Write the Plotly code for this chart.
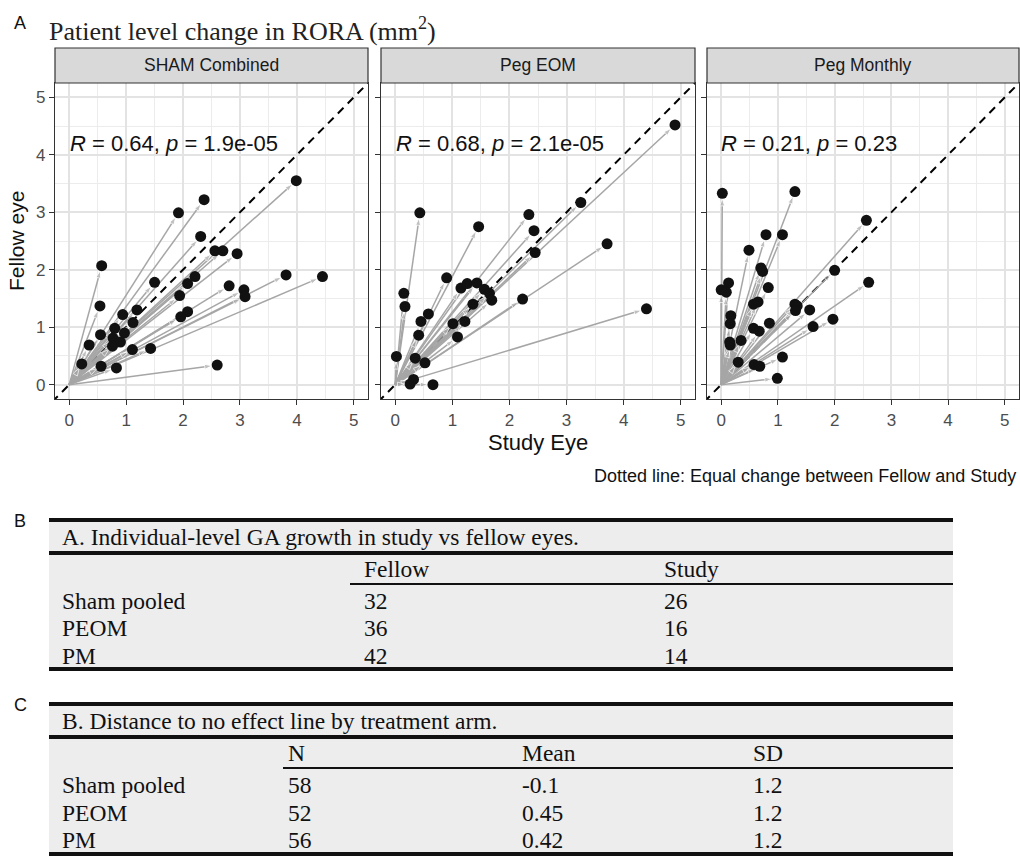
import plotly.graph_objects as go

# ---------------- data ----------------
panel_names = ["SHAM Combined", "Peg EOM", "Peg Monthly"]
stat_r = ["0.64", "0.68", "0.21"]
stat_p = ["1.9e-05", "2.1e-05", "0.23"]

sham_study = [3.99, 2.37, 1.92, 2.31, 2.56, 2.70, 2.95, 0.57, 1.50, 2.21, 2.08, 3.81, 4.45, 2.81,
              3.07, 3.09, 1.94, 0.54, 1.19, 0.94, 1.12, 2.08, 1.96, 0.80, 0.97, 0.55, 0.77, 0.90,
              0.76, 0.35, 1.11, 1.43, 0.22, 0.56, 0.83, 2.60]
sham_fellow = [3.55, 3.22, 2.99, 2.58, 2.33, 2.33, 2.28, 2.07, 1.78, 1.88, 1.76, 1.91, 1.88, 1.72,
               1.65, 1.53, 1.55, 1.37, 1.30, 1.22, 1.08, 1.27, 1.18, 0.98, 0.90, 0.87, 0.81, 0.74,
               0.67, 0.69, 0.61, 0.63, 0.36, 0.32, 0.29, 0.34]

peom_study = [4.90, 3.25, 0.43, 2.34, 1.46, 2.43, 3.71, 2.45, 0.90, 1.15, 1.26, 1.43, 1.56, 1.65,
              1.69, 1.36, 2.23, 0.15, 0.17, 0.58, 0.45, 1.01, 1.22, 0.41, 1.09, 0.02, 0.35, 0.52,
              4.40, 0.32, 0.26, 0.66]
peom_fellow = [4.52, 3.17, 2.99, 2.96, 2.75, 2.68, 2.45, 2.30, 1.86, 1.68, 1.76, 1.77, 1.66, 1.59,
               1.47, 1.40, 1.49, 1.59, 1.36, 1.23, 1.10, 1.06, 1.10, 0.86, 0.83, 0.49, 0.46, 0.38,
               1.32, 0.09, 0.01, 0.00]

pm_study = [0.02, 1.30, 2.56, 0.79, 1.08, 0.49, 0.70, 0.73, 2.00, 2.60, 0.13, 0.00, 0.09, 0.83,
            0.57, 0.65, 1.30, 1.34, 1.31, 1.56, 0.17, 0.16, 0.85, 1.62, 1.97, 0.57, 0.67, 0.15,
            0.16, 0.35, 0.30, 0.58, 0.68, 1.08, 0.99]
pm_fellow = [3.33, 3.36, 2.86, 2.61, 2.61, 2.34, 2.03, 1.97, 1.99, 1.78, 1.77, 1.65, 1.61, 1.69,
             1.40, 1.44, 1.40, 1.37, 1.29, 1.30, 1.20, 1.06, 1.07, 1.01, 1.14, 0.98, 0.93, 0.74,
             0.69, 0.77, 0.39, 0.35, 0.32, 0.48, 0.11]

study_sets = [sham_study, peom_study, pm_study]
fellow_sets = [sham_fellow, peom_fellow, pm_fellow]
axis_ticks = [0, 1, 2, 3, 4, 5]

tableB_title = "A. Individual-level GA growth in study vs fellow eyes."
tableB_cols = ["Fellow", "Study"]
tableB_rows = ["Sham pooled", "PEOM", "PM"]
tableB_fellow = [32, 36, 42]
tableB_study = [26, 16, 14]

tableC_title = "B. Distance to no effect line by treatment arm."
tableC_cols = ["N", "Mean", "SD"]
tableC_rows = ["Sham pooled", "PEOM", "PM"]
tableC_n = [58, 52, 56]
tableC_mean = ["-0.1", "0.45", "0.42"]
tableC_sd = ["1.2", "1.2", "1.2"]

# ---------------- layout helpers ----------------
W, H = 1020, 856


def X(px):
    return px / W


def Y(py):
    return 1 - py / H


SANS = "Liberation Sans, Arial, sans-serif"
SERIF = "Liberation Serif, Times New Roman, serif"

panel_px = [(55, 368), (381, 695), (707, 1019)]
plot_top, plot_bot = 83, 399
strip_top = 48

fig = go.Figure()
shapes = []
annotations = []
ARROW = "#a6a6a6"

for i in range(3):
    xa = "x" if i == 0 else f"x{i+1}"
    ya = "y" if i == 0 else f"y{i+1}"
    st, fe = study_sets[i], fellow_sets[i]

    # identity line
    fig.add_trace(go.Scatter(x=[-0.3, 5.3], y=[-0.3, 5.3], mode="lines",
                             line=dict(color="black", width=2, dash="8px,6px"),
                             xaxis=xa, yaxis=ya, hoverinfo="skip"))
    # arrows
    ax_, ay_, sz = [], [], []
    for s, f in zip(st, fe):
        ax_ += [0, s, None]
        ay_ += [0, f, None]
        sz += [0, 8, 0]
    fig.add_trace(go.Scatter(x=ax_, y=ay_, mode="lines+markers",
                             line=dict(color=ARROW, width=1.5),
                             marker=dict(symbol="arrow", angleref="previous", standoff=5,
                                         size=sz, color=ARROW),
                             xaxis=xa, yaxis=ya, hoverinfo="skip"))
    # points
    fig.add_trace(go.Scatter(x=st, y=fe, mode="markers",
                             marker=dict(size=11, color="#111111"),
                             xaxis=xa, yaxis=ya))

    x0, x1 = panel_px[i]
    axis_common = dict(range=[-0.25, 5.25], tickvals=axis_ticks, showgrid=True,
                       gridcolor="#e3e3e3", gridwidth=1.5,
                       minor=dict(dtick=0.5, showgrid=True, gridcolor="#ececec", gridwidth=1.2),
                       showline=True, mirror=True, linecolor="#333333", linewidth=1.2,
                       ticks="outside", ticklen=5, tickcolor="#333333", tickwidth=1.2,
                       tickfont=dict(family=SANS, size=17, color="#4d4d4d"),
                       zeroline=False, fixedrange=True)
    xkey = "xaxis" if i == 0 else f"xaxis{i+1}"
    ykey = "yaxis" if i == 0 else f"yaxis{i+1}"
    fig.update_layout(**{
        xkey: dict(axis_common, domain=[X(x0), X(x1)], anchor=ya),
        ykey: dict(axis_common, domain=[Y(plot_bot), Y(plot_top)], anchor=xa,
                   showticklabels=(i == 0)),
    })

    # strip
    shapes.append(dict(type="rect", xref="paper", yref="paper", x0=X(x0), x1=X(x1),
                       y0=Y(plot_top), y1=Y(strip_top), fillcolor="#d9d9d9",
                       line=dict(color="#333333", width=1.2)))
    annotations.append(dict(xref="paper", yref="paper", x=X((x0 + x1) / 2),
                            y=Y((strip_top + plot_top) / 2), text=panel_names[i],
                            showarrow=False, xanchor="center", yanchor="middle",
                            font=dict(family=SANS, size=17.5, color="#1a1a1a")))
    # stats
    annotations.append(dict(xref=xa, yref=ya, x=-0.03, y=4.19,
                            text=f"<i>R</i> = {stat_r[i]}, <i>p</i> = {stat_p[i]}",
                            showarrow=False, xanchor="left", yanchor="middle",
                            font=dict(family=SANS, size=22, color="#111111")))

# figure texts
annotations += [
    dict(xref="paper", yref="paper", x=X(12), y=Y(23), text="A", showarrow=False,
         xanchor="left", yanchor="middle", font=dict(family=SANS, size=18, color="#111")),
    dict(xref="paper", yref="paper", x=X(47), y=Y(29),
         text="Patient level change in RORA (mm<sup>2</sup>)", showarrow=False,
         xanchor="left", yanchor="middle", font=dict(family=SERIF, size=26, color="#222")),
    dict(xref="paper", yref="paper", x=X(16), y=Y((plot_top + plot_bot) / 2),
         text="Fellow eye", textangle=-90, showarrow=False, xanchor="center",
         yanchor="middle", font=dict(family=SANS, size=21, color="#111")),
    dict(xref="paper", yref="paper", x=X(538), y=Y(442), text="Study Eye",
         showarrow=False, xanchor="center", yanchor="middle",
         font=dict(family=SANS, size=22, color="#111")),
    dict(xref="paper", yref="paper", x=X(1018), y=Y(476),
         text="Dotted line: Equal change between Fellow and Study", showarrow=False,
         xanchor="right", yanchor="middle", font=dict(family=SANS, size=18, color="#111")),
    dict(xref="paper", yref="paper", x=X(12), y=Y(521), text="B", showarrow=False,
         xanchor="left", yanchor="middle", font=dict(family=SANS, size=18, color="#111")),
    dict(xref="paper", yref="paper", x=X(12), y=Y(705), text="C", showarrow=False,
         xanchor="left", yanchor="middle", font=dict(family=SANS, size=18, color="#111")),
]


def hline(py, xa_px, xb_px, w):
    shapes.append(dict(type="line", xref="paper", yref="paper", x0=X(xa_px), x1=X(xb_px),
                       y0=Y(py), y1=Y(py), line=dict(color="#111111", width=w)))


def txt(px, py, s):
    annotations.append(dict(xref="paper", yref="paper", x=X(px), y=Y(py), text=str(s),
                            showarrow=False, xanchor="left", yanchor="middle",
                            font=dict(family=SERIF, size=23.5, color="#111111")))


TL, TR = 49, 953
# ---- table B ----
shapes.append(dict(type="rect", xref="paper", yref="paper", x0=X(TL), x1=X(TR),
                   y0=Y(669), y1=Y(520), fillcolor="#ededed", line=dict(width=0), layer="below"))
hline(520, TL, TR, 4)
hline(553, TL, TR, 4)
hline(584, 350, TR, 2)
hline(669, TL, TR, 4)
txt(60, 537, tableB_title)
txt(362, 569, tableB_cols[0])
txt(662, 569, tableB_cols[1])
for k, ry in enumerate([601, 628, 656]):
    txt(60, ry, tableB_rows[k])
    txt(362, ry, tableB_fellow[k])
    txt(662, ry, tableB_study[k])

# ---- table C ----
shapes.append(dict(type="rect", xref="paper", yref="paper", x0=X(TL), x1=X(TR),
                   y0=Y(854), y1=Y(704), fillcolor="#ededed", line=dict(width=0), layer="below"))
hline(704, TL, TR, 4)
hline(737, TL, TR, 4)
hline(768, 283, TR, 2)
hline(854, TL, TR, 4)
txt(60, 721, tableC_title)
for c, cx in zip(tableC_cols, [286, 520, 751]):
    txt(cx, 753, c)
for k, ry in enumerate([785, 813, 840]):
    txt(60, ry, tableC_rows[k])
    txt(286, ry, tableC_n[k])
    txt(520, ry, tableC_mean[k])
    txt(751, ry, tableC_sd[k])

fig.update_layout(width=W, height=H, margin=dict(l=0, r=0, t=0, b=0),
                  paper_bgcolor="white", plot_bgcolor="white", showlegend=False,
                  shapes=shapes, annotations=annotations)

fig.write_html("out.html")
